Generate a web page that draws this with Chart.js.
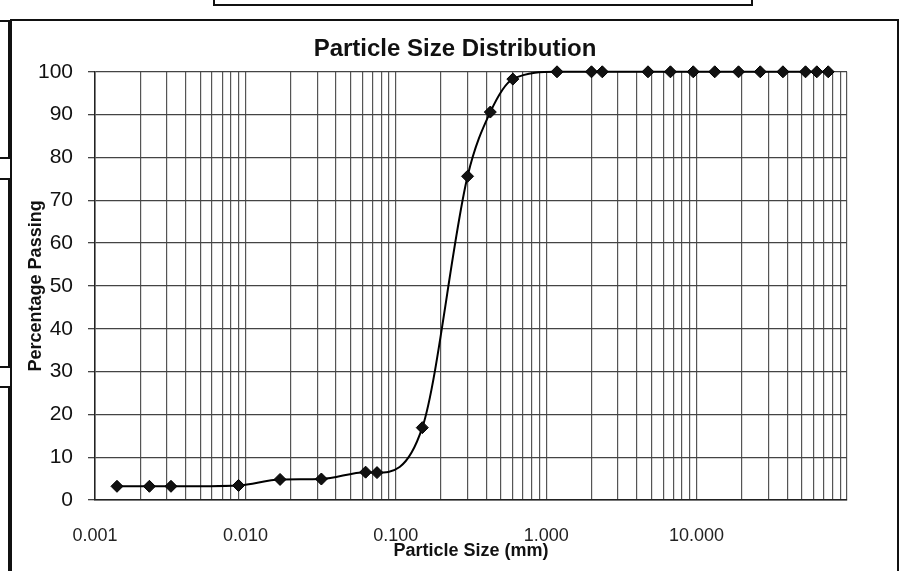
<!DOCTYPE html>
<html>
<head>
<meta charset="utf-8">
<script src="https://cdn.jsdelivr.net/npm/chart.js@4"></script>
<style>
  html, body { margin: 0; padding: 0; background: #fff; }
  #wrap { position: relative; width: 900px; height: 571px; overflow: hidden; }
  .ln { position: absolute; border: 0 solid #111; }
  canvas { position: absolute; left: 0; top: 0; }
</style>
</head>
<body>
<div id="wrap">
  <!-- scanned page frame bits -->
  <div class="ln" style="left:213px;top:-4px;width:536px;height:6px;border-width:2px;"></div>
  <div class="ln" style="left:10px;top:19px;width:885px;height:560px;border-width:2px;"></div>
  <div class="ln" style="left:-4px;top:20px;width:10px;height:135px;border-width:2px;"></div>
  <div class="ln" style="left:-4px;top:178px;width:10px;height:186px;border-width:2px;"></div>
  <div class="ln" style="left:-4px;top:386px;width:10px;height:200px;border-width:2px;"></div>
  <canvas id="myChart" width="900" height="571"></canvas>
</div>
<script>
  // particle size (mm) and percentage passing
  var sizes = [0.0014, 0.0023, 0.0032, 0.009, 0.017, 0.032, 0.063, 0.075, 0.15, 0.3, 0.425, 0.6,
               1.18, 2.0, 2.36, 4.75, 6.7, 9.5, 13.2, 19, 26.5, 37.5, 53, 63, 75]
  var passing = [3.2, 3.2, 3.2, 3.4, 4.8, 4.9, 6.5, 6.4, 16.9, 75.6, 90.6, 98.3,
                 100, 100, 100, 100, 100, 100, 100, 100, 100, 100, 100, 100, 100]
  var xTickLabels = ['0.001', '0.010', '0.100', '1.000', '10.000']
  var yTicks = [0, 10, 20, 30, 40, 50, 60, 70, 80, 90, 100]

  var points = []
  for (var i = 0; i < sizes.length; i++) {
    points.push({ x: sizes[i], y: passing[i] })
  }

  // log grid: 1..9 in every decade from 0.001 to 100
  var xGrid = []
  for (var d = -3; d < 2; d++) {
    for (var m = 1; m < 10; m++) xGrid.push(+(m * Math.pow(10, d)).toPrecision(3))
  }
  xGrid.push(100)

  const ctx = document.getElementById('myChart');
  const font = "'Liberation Sans', Arial, sans-serif";

  new Chart(ctx, {
    type: 'scatter',
    data: {
      datasets: [{
        data: points,
        showLine: true,
        clip: false,
        borderColor: '#000',
        borderWidth: 2,
        cubicInterpolationMode: 'monotone',
        pointStyle: 'rectRot',
        pointRadius: 6,
        pointBackgroundColor: '#111',
        pointBorderColor: '#000',
        pointBorderWidth: 1
      }]
    },
    options: {
      responsive: false,
      animation: false,
      devicePixelRatio: 1,
      layout: { padding: { top: 0, right: 0, bottom: 0, left: 10 } },
      plugins: {
        legend: { display: false },
        tooltip: { enabled: false },
        title: {
          display: true,
          text: 'Particle Size Distribution',
          color: '#111',
          font: { family: font, size: 24, weight: 'bold' },
          padding: { top: 35, bottom: 8 }
        }
      },
      scales: {
        x: {
          type: 'logarithmic',
          min: 0.001,
          max: 100,
          afterBuildTicks: function (scale) {
            scale.ticks = xGrid.map(function (v) { return { value: v } })
          },
          afterFit: function (scale) { scale.height = 71 },
          grid: { color: '#555', lineWidth: 1.2, drawTicks: false },
          border: { color: '#222', width: 1.5 },
          ticks: {
            autoSkip: false,
            maxRotation: 0,
            padding: 25,
            color: '#222',
            font: { family: font, size: 18 },
            callback: function (v) {
              var e = Math.log10(v)
              if (Math.abs(e - Math.round(e)) > 1e-9) return ''
              var idx = Math.round(e) + 3
              return idx < xTickLabels.length ? xTickLabels[idx] : ''
            }
          },
          title: {
            display: true,
            text: 'Particle Size (mm)',
            color: '#111',
            font: { family: font, size: 18, weight: 'bold' },
            padding: { top: 0, bottom: 9 }
          }
        },
        y: {
          min: 0,
          max: 100,
          afterBuildTicks: function (scale) {
            scale.ticks = yTicks.map(function (v) { return { value: v } })
          },
          afterFit: function (scale) { scale.width = 85 },
          grid: { color: '#444', lineWidth: 1.3, tickLength: 7 },
          border: { color: '#222', width: 1.5 },
          ticks: {
            padding: 15,
            color: '#111',
            font: { family: font, size: 21 }
          },
          title: {
            display: true,
            text: 'Percentage Passing',
            color: '#111',
            font: { family: font, size: 18, weight: 'bold' },
            padding: { top: 15, bottom: 0 }
          }
        },
        // empty right-hand space of the original sheet
        yPad: {
          position: 'right',
          min: 0,
          max: 100,
          afterFit: function (scale) { scale.width = 53 },
          grid: { drawOnChartArea: false, drawTicks: false },
          border: { display: false },
          ticks: { display: false }
        }
      }
    }
  });
</script>
</body>
</html>
